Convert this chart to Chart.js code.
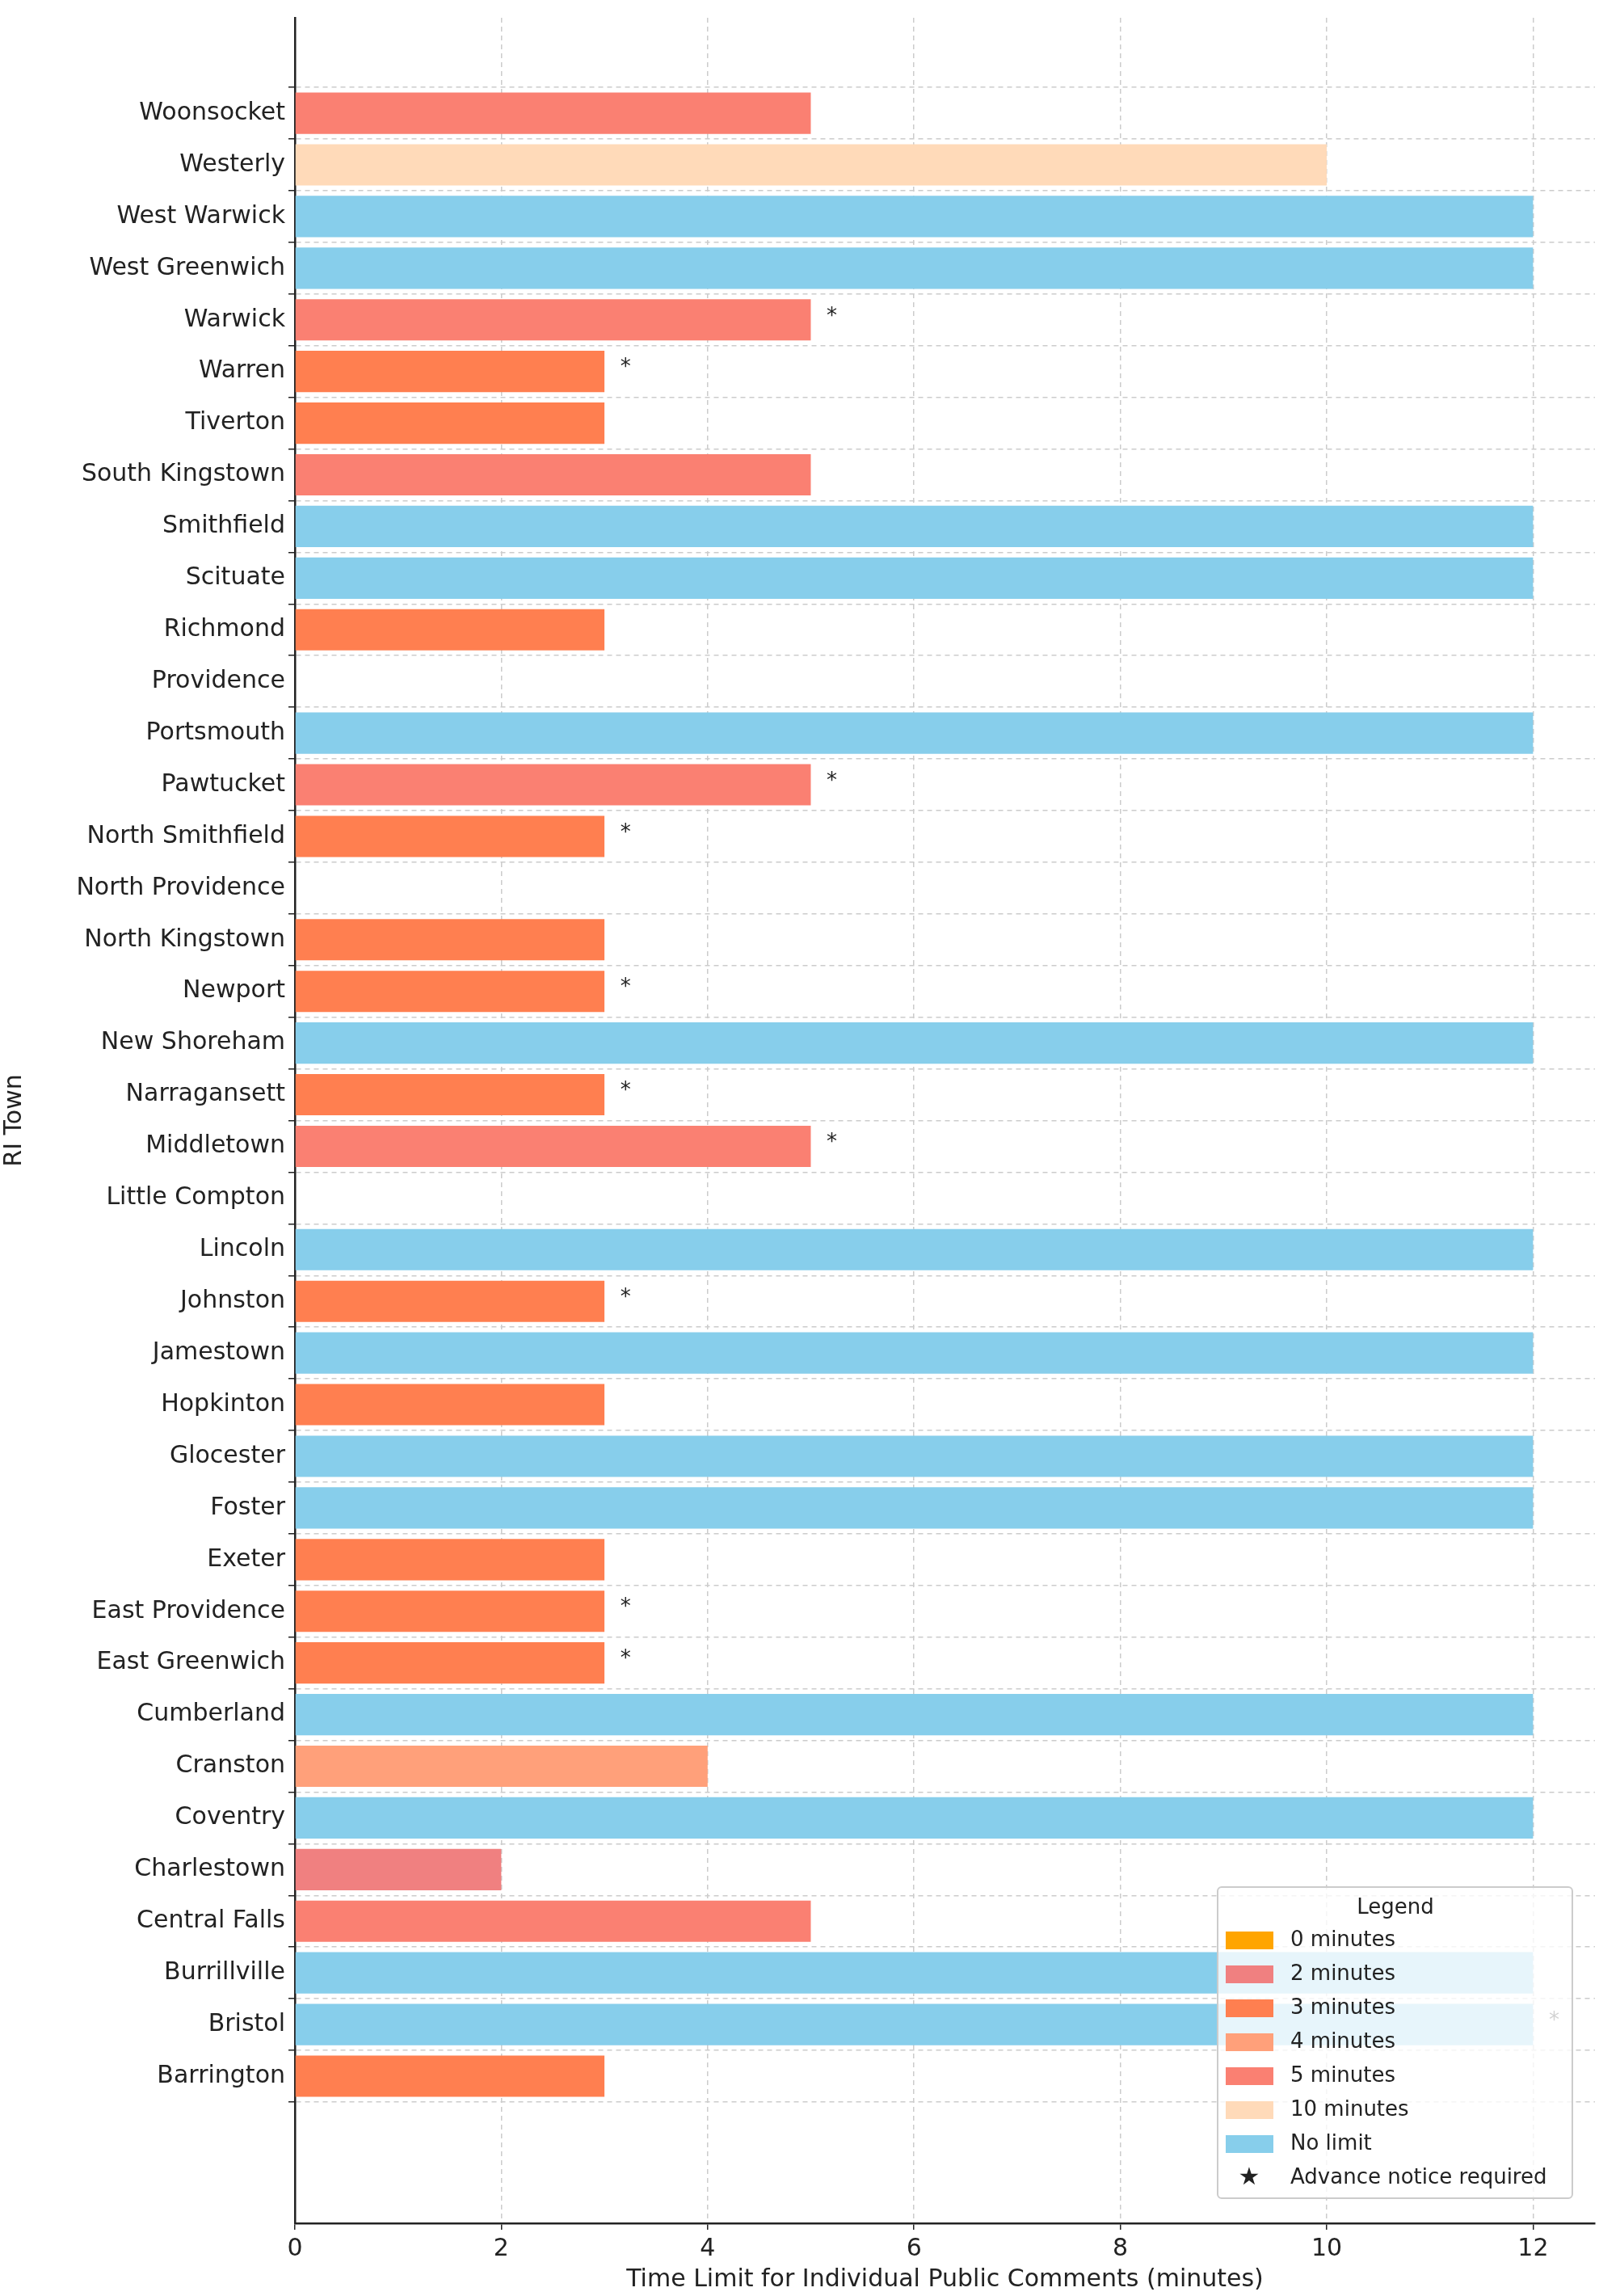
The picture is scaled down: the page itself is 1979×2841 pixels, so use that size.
<!DOCTYPE html>
<html>
<head>
<meta charset="utf-8">
<script src="https://cdn.jsdelivr.net/npm/chart.js@4"></script>
<style>
  body { margin: 0; background: #fff; }
</style>
</head>
<body>
<canvas id="canvas" width="1979" height="2841"></canvas>
<script>
var towns = ["Woonsocket", "Westerly", "West Warwick", "West Greenwich", "Warwick", "Warren",
  "Tiverton", "South Kingstown", "Smithfield", "Scituate", "Richmond", "Providence", "Portsmouth",
  "Pawtucket", "North Smithfield", "North Providence", "North Kingstown", "Newport", "New Shoreham",
  "Narragansett", "Middletown", "Little Compton", "Lincoln", "Johnston", "Jamestown", "Hopkinton",
  "Glocester", "Foster", "Exeter", "East Providence", "East Greenwich", "Cumberland", "Cranston",
  "Coventry", "Charlestown", "Central Falls", "Burrillville", "Bristol", "Barrington"];
// minutes, 12 = no limit
var limits = [5, 10, 12, 12, 5, 3, 3, 5, 12, 12, 3, 0, 12, 5, 3, 0, 3, 3, 12, 3, 5, 0, 12, 3, 12, 3,
  12, 12, 3, 3, 3, 12, 4, 12, 2, 5, 12, 12, 3];
var advanceNotice = [0, 0, 0, 0, 1, 1, 0, 0, 0, 0, 0, 0, 0, 1, 1, 0, 0, 1, 0, 1, 1, 0, 0, 1, 0, 0,
  0, 0, 0, 1, 1, 0, 0, 0, 0, 0, 0, 1, 0];
var legendLabels = ["0 minutes", "2 minutes", "3 minutes", "4 minutes", "5 minutes", "10 minutes", "No limit"];
var legendColors = ["#FFA500", "#F08080", "#FF7F50", "#FFA07A", "#FA8072", "#FFDAB9", "#87CEEB"];
var limitKeys = [0, 2, 3, 4, 5, 10, 12];
var xTicks = [0, 2, 4, 6, 8, 10, 12];

var FONT = "DejaVu Sans";
var barColors = limits.map(function (v) { return legendColors[limitKeys.indexOf(v)]; });
var points = limits.map(function (v, i) { return { x: v, y: i }; });

var starPlugin = {
  id: "stars",
  afterDatasetsDraw: function (chart) {
    var c = chart.ctx, xs = chart.scales.x, ys = chart.scales.y;
    c.save();
    c.fillStyle = "#222";
    c.font = "26px " + FONT;
    c.textAlign = "left";
    c.textBaseline = "middle";
    for (var i = 0; i < towns.length; i++) {
      if (advanceNotice[i]) c.fillText("*", xs.getPixelForValue(limits[i] + 0.2) - 6, ys.getPixelForValue(i) - 4);
    }
    c.restore();
  },
  afterDraw: function (chart) {
    var c = chart.ctx, a = chart.chartArea;
    var w = 439, h = 385;
    var left = a.right - 28 - w, top = a.bottom - 31 - h;
    c.save();
    c.fillStyle = "rgba(255,255,255,0.8)";
    c.strokeStyle = "#cccccc";
    c.lineWidth = 2;
    c.beginPath();
    c.roundRect(left, top, w, h, 5);
    c.fill();
    c.stroke();
    c.fillStyle = "#222";
    c.font = "26px " + FONT;
    c.textAlign = "center";
    c.textBaseline = "middle";
    c.fillText("Legend", left + 220, top + 26);
    c.textAlign = "left";
    for (var i = 0; i < legendLabels.length; i++) {
      var y = top + 66 + i * 42;
      c.fillStyle = legendColors[i];
      c.fillRect(left + 10, y - 11, 59, 22);
      c.fillStyle = "#222";
      c.fillText(legendLabels[i], left + 90, y);
    }
    var ys = top + 66 + 7 * 42;
    c.font = "30px " + FONT;
    c.textAlign = "center";
    c.fillText("\u2605", left + 39, ys);
    c.font = "26px " + FONT;
    c.textAlign = "left";
    c.fillText("Advance notice required", left + 90, ys);
    c.restore();
  }
};

new Chart(document.getElementById("canvas").getContext("2d"), {
  type: "bar",
  data: {
    datasets: [{
      data: points,
      backgroundColor: barColors,
      barPercentage: 0.8,
      categoryPercentage: 1
    }]
  },
  options: {
    indexAxis: "y",
    responsive: false,
    animation: false,
    layout: { padding: { left: 0, right: 5, top: 0, bottom: 0 } },
    plugins: { legend: { display: false }, tooltip: { enabled: false } },
    scales: {
      x: {
        type: "linear",
        min: 0,
        max: 12.6,
        afterBuildTicks: function (s) { s.ticks = xTicks.map(function (v) { return { value: v }; }); },
        afterFit: function (s) { s.height = 90; },
        grid: { color: "#cccccc", lineWidth: 1.5, tickLength: 8, tickColor: "#222" },
        border: { display: true, color: "#222", width: 2.5, dash: [6, 5] },
        ticks: { color: "#222", font: { family: FONT, size: 30 }, padding: 6 },
        title: { display: true, text: "Time Limit for Individual Public Comments (minutes)", color: "#222",
          font: { family: FONT, size: 30 }, padding: { top: 0, bottom: 2 } }
      },
      y: {
        type: "linear",
        reverse: true,
        min: -1.3,
        max: 40.3,
        afterBuildTicks: function (s) { s.ticks = towns.map(function (t, i) { return { value: i }; }); },
        afterFit: function (s) { s.width = 365; },
        grid: { color: "#cccccc", lineWidth: 1.5, tickLength: 8, tickColor: "#222" },
        border: { display: true, color: "#222", width: 2.5, dash: [6, 5] },
        ticks: {
          color: "#222", font: { family: FONT, size: 30 }, padding: 4, autoSkip: false,
          callback: function (v) { return towns[v]; }
        },
        title: { display: true, text: "RI Town", color: "#222", font: { family: FONT, size: 30 }, padding: { top: 0, bottom: 0 } }
      }
    }
  },
  plugins: [starPlugin]
});
</script>
</body>
</html>
